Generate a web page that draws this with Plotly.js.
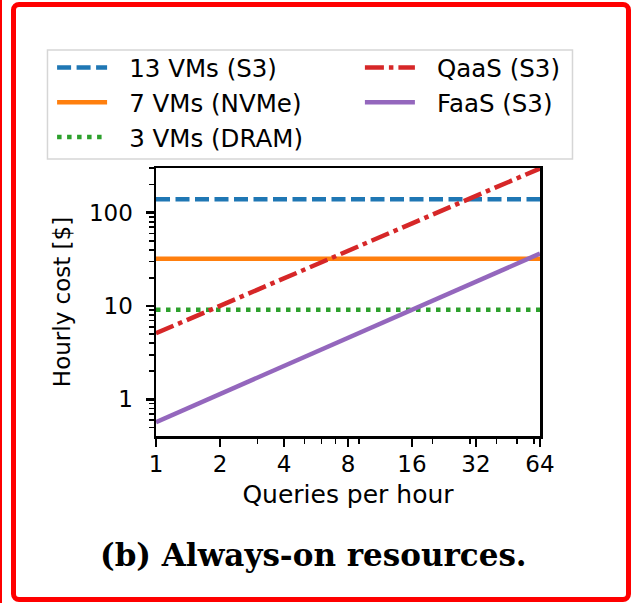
<!DOCTYPE html>
<html><head><meta charset="utf-8">
<script src="https://cdn.plot.ly/plotly-3.0.1.min.js"></script>
<style>
body{margin:0;background:#fff;}
#wrap{position:relative;width:635px;height:603px;overflow:hidden;}
#chart{position:absolute;left:0;top:0;width:635px;height:603px;}
.fr{position:absolute;pointer-events:none;}
</style></head><body>
<div id="wrap"><div id="chart"></div>
<div class="fr" style="left:0;top:0;width:2px;height:603px;background:#f00"></div>
<div class="fr" style="left:11px;top:2px;width:610px;height:590px;border:5.5px solid #f00;border-radius:8px"></div>
</div>
<script>
const queries = [1, 64];
const vm13 = [139, 139];
const vm7 = [32, 32];
const vm3 = [9.1, 9.1];
const qaas = [5.1, 298];
const faas = [0.57, 36.5];
const xTicks = [1, 2, 4, 8, 16, 32, 64];
const xMinor = [3, 5, 6, 7, 9, 20, 30, 40, 50, 60];
const yTicks = [1, 10, 100];
const yMinor = [0.5,0.6,0.7,0.8,0.9,2,3,4,5,6,7,8,9,20,30,40,50,60,70,80,90,200,300];
const seriesNames = ['13 VMs (S3)', '7 VMs (NVMe)', '3 VMs (DRAM)', 'QaaS (S3)', 'FaaS (S3)'];

const F = 'DejaVu Sans, sans-serif';
const PAD = '\u2002\u2009';
function tr(name, y, color, dash, leg) {
  return {x: queries, y: y, name: PAD + name, type: 'scatter', mode: 'lines',
    line: {color: color, width: 4.5, dash: dash}, legend: leg};
}
const data = [
  tr(seriesNames[0], vm13, '#1f77b4', '14px,5.5px', 'legend'),
  tr(seriesNames[1], vm7, '#ff7f0e', 'solid', 'legend'),
  tr(seriesNames[2], vm3, '#2ca02c', '4.5px,5.5px', 'legend'),
  tr(seriesNames[3], qaas, '#d62728', '19px,5px,4.5px,5px', 'legend2'),
  tr(seriesNames[4], faas, '#9467bd', 'solid', 'legend2')
];
const legBase = {xanchor: 'left', yanchor: 'top', bgcolor: 'rgba(0,0,0,0)', borderwidth: 0,
  font: {family: F, size: 24.5, color: '#000'}, tracegroupgap: 0, traceorder: 'normal', itemwidth: 50};
const layout = {
  width: 635, height: 603,
  margin: {l: 156, r: 95, t: 168, b: 167},
  paper_bgcolor: 'rgba(0,0,0,0)', plot_bgcolor: '#fff',
  showlegend: true,
  font: {family: F, size: 23, color: '#000'},
  xaxis: {type: 'log', range: [0, Math.log10(64)], tickmode: 'array', tickvals: xTicks,
    ticktext: xTicks.map(String), ticks: 'outside', ticklen: 8, tickwidth: 2.5, tickcolor: '#000',
    showline: true, linewidth: 2.5, linecolor: '#000', mirror: true, showgrid: false, zeroline: false,
    tickfont: {size: 23}, ticklabelstandoff: -2,
    minor: {tickmode: 'array', tickvals: xMinor, ticks: 'outside', ticklen: 5, tickwidth: 1.6, tickcolor: '#000', showgrid: false},
    title: {text: 'Queries per hour', font: {size: 25}, standoff: 10}},
  yaxis: {type: 'log', range: [-0.393, 2.479], tickmode: 'array', tickvals: yTicks,
    ticktext: yTicks.map(String), ticks: 'outside', ticklen: 8, tickwidth: 2.5, tickcolor: '#000',
    showline: true, linewidth: 2.5, linecolor: '#000', mirror: true, showgrid: false, zeroline: false,
    tickfont: {size: 23}, ticklabelstandoff: 8,
    minor: {tickmode: 'array', tickvals: yMinor, ticks: 'outside', ticklen: 5, tickwidth: 1.6, tickcolor: '#000', showgrid: false},
    title: {text: 'Hourly cost [$]', font: {size: 23}, standoff: 12}},
  legend: Object.assign({x: -0.2706, y: 1.459}, legBase),
  legend2: Object.assign({x: 0.531, y: 1.459}, legBase),
  shapes: [{type: 'rect', xref: 'paper', yref: 'paper', x0: -0.2826, x1: 1.0846, y0: 1.0336, y1: 1.44,
    line: {color: '#d6d6d6', width: 1.5}, fillcolor: 'rgba(255,255,255,0.8)', layer: 'below'}],
  annotations: [{text: '(b) Always-on resources.', xref: 'paper', yref: 'paper', x: 0.41, y: -0.444,
    xanchor: 'center', yanchor: 'middle', showarrow: false,
    font: {family: 'DejaVu Serif, serif', size: 31, weight: 'bold', color: '#000'}}]
};
Plotly.newPlot('chart', data, layout, {displayModeBar: false, staticPlot: true});
</script>
</body></html>
